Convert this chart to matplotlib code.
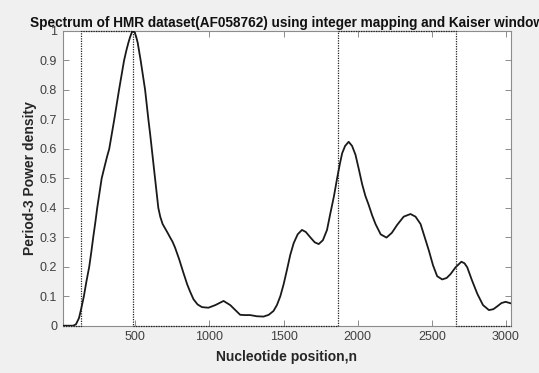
import matplotlib
matplotlib.use("Agg")
import matplotlib.pyplot as plt
from matplotlib.ticker import FixedLocator, FuncFormatter

# Spectrum curve
position = [10, 60, 81, 100, 120, 136, 153, 170, 189, 203, 216, 230, 243, 258, 273, 295, 310, 324, 341,
            358, 374, 390, 407, 424, 440, 453, 465, 476, 486, 496, 506, 516, 526, 536, 551, 566, 577,
            588, 600, 611, 622, 633, 644, 655, 668, 684, 701, 718, 734, 751, 768, 796, 824, 850, 870,
            892, 920, 950, 993, 1040, 1095, 1140, 1207, 1240, 1275, 1320, 1365, 1400, 1432, 1455, 1478,
            1500, 1523, 1545, 1568, 1595, 1624, 1650, 1680, 1710, 1737, 1765, 1793, 1815, 1840, 1861,
            1880, 1895, 1915, 1939, 1962, 1985, 2008, 2030, 2052, 2074, 2097, 2120, 2155, 2194, 2230,
            2266, 2310, 2356, 2390, 2424, 2452, 2480, 2508, 2536, 2570, 2600, 2626, 2660, 2699, 2720,
            2739, 2770, 2807, 2845, 2885, 2915, 2942, 2970, 2998, 3032]
power = [0, 0, 0, 0.005, 0.026, 0.06, 0.1, 0.15, 0.2, 0.25, 0.3, 0.35, 0.4, 0.45, 0.5, 0.545, 0.575,
         0.6, 0.65, 0.7, 0.75, 0.8, 0.85, 0.9, 0.935, 0.96, 0.98, 0.995, 1.0, 0.995, 0.98, 0.96, 0.93,
         0.9, 0.85, 0.8, 0.75, 0.7, 0.65, 0.6, 0.55, 0.5, 0.45, 0.4, 0.37, 0.345, 0.33, 0.315, 0.3,
         0.285, 0.265, 0.225, 0.18, 0.14, 0.115, 0.09, 0.072, 0.063, 0.061, 0.07, 0.084, 0.07, 0.037,
         0.036, 0.036, 0.032, 0.031, 0.037, 0.05, 0.07, 0.1, 0.14, 0.19, 0.24, 0.28, 0.31, 0.325,
         0.318, 0.3, 0.283, 0.277, 0.29, 0.325, 0.38, 0.44, 0.5, 0.55, 0.585, 0.61, 0.624, 0.61, 0.58,
         0.53, 0.48, 0.44, 0.41, 0.375, 0.345, 0.31, 0.299, 0.315, 0.342, 0.37, 0.379, 0.37, 0.345,
         0.3, 0.255, 0.205, 0.168, 0.157, 0.162, 0.175, 0.198, 0.217, 0.212, 0.198, 0.155, 0.108,
         0.07, 0.053, 0.056, 0.066, 0.077, 0.081, 0.076]

# Coding-region indicator (square wave)
region_x = [10, 131, 131, 485, 485, 1867, 1867, 2660, 2660, 3032]
region_y = [0, 0, 1, 1, 0, 0, 1, 1, 0, 0]

xticks = [500, 1000, 1500, 2000, 2500, 3000]
yticks = [0, 0.1, 0.2, 0.3, 0.4, 0.5, 0.6, 0.7, 0.8, 0.9, 1]

plt.rcParams['font.family'] = ['Liberation Sans', 'DejaVu Sans']

fig = plt.figure(figsize=(5.39, 3.73), dpi=100, facecolor='#f0f0f0')
ax = fig.add_axes([0.1163, 0.1268, 0.8312, 0.7901])
ax.set_facecolor('white')

ax.plot(region_x, region_y, color='#222222', linestyle=(0, (1, 1)), linewidth=0.9,
        zorder=4, clip_on=False)
ax.plot(position, power, color='#1a1a1a', linewidth=1.3, zorder=5)

ax.set_xlim(10, 3032)
ax.set_ylim(0, 1)
ax.xaxis.set_major_locator(FixedLocator(xticks))
ax.yaxis.set_major_locator(FixedLocator(yticks))
ax.yaxis.set_major_formatter(FuncFormatter(lambda v, p: f"{v:g}"))

for s in ax.spines.values():
    s.set_color('#8c8c8c')
    s.set_linewidth(0.8)
ax.tick_params(direction='in', length=4, width=0.7, color='#8c8c8c', labelcolor='#404040',
               labelsize=9, top=True, right=True, pad=4)

ax.set_title('Spectrum of HMR dataset(AF058762) using integer mapping and Kaiser window',
             fontsize=9.85, fontweight='bold', pad=3, color='#111111')
ax.set_xlabel('Nucleotide position,n', fontsize=10, fontweight='bold', color='#262626', labelpad=5)
ax.set_ylabel('Period-3 Power density', fontsize=10, fontweight='bold', color='#262626', labelpad=2)

fig.savefig('out.png', dpi=100, facecolor=fig.get_facecolor())
